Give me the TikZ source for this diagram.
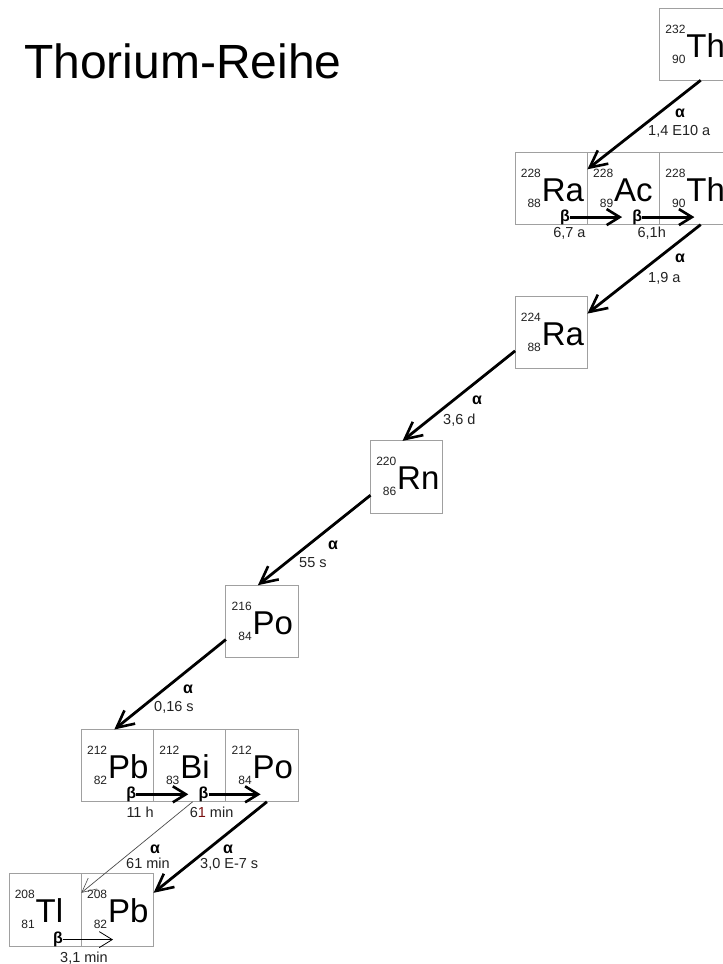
\documentclass[tikz,border=0pt]{standalone}
\usepackage{fontspec}
\setmainfont{Liberation Sans}
\usetikzlibrary{calc,arrows.meta}
\definecolor{boxgray}{HTML}{A0A0A0}
\definecolor{labgray}{HTML}{222222}
\definecolor{darkred}{HTML}{7A1010}
\tikzset{
  nbox/.style={draw=boxgray, line width=0.9pt, minimum width=72.3pt, minimum height=72.3pt, inner sep=0pt, outer sep=0pt},
  massno/.style={inner sep=0pt, font=\fontsize{12}{12}\selectfont, text=labgray},
  symb/.style={inner sep=0pt, font=\fontsize{33}{33}\selectfont},
  greek/.style={inner sep=0pt, font=\fontsize{16}{16}\selectfont\bfseries},
  halflife/.style={inner sep=0pt, font=\fontsize{14.5}{14.5}\selectfont, text=labgray, anchor=base west},
  alphaarrow/.style={line width=2.8pt, -{Straight Barb[length=17pt,width=17pt,line width=2.6pt]}},
  betaarrow/.style={line width=2.8pt, -{Straight Barb[length=13pt,width=16pt,line width=2.6pt]}},
  thinarrow/.style={line width=0.7pt, draw=black!70, -{Straight Barb[length=14pt,width=14pt,line width=0.6pt]}},
  thinbeta/.style={line width=0.9pt, -{Straight Barb[length=13pt,width=16pt,line width=0.8pt]}},
}
\newcommand{\nucbox}[6]{%
  \node[nbox, anchor=north west] (#1) at (#2,#3) {};
  \node[massno, anchor=base east] (#1-a) at ($(#1.north west)+(26,25)$) {#4};
  \node[massno, anchor=base east] (#1-z) at ($(#1.north west)+(26,55)$) {#5};
  \node[symb, anchor=base west] (#1-s) at ($(#1.north west)+(26.5,49)$) {#6};
}
\begin{document}
\begin{tikzpicture}[x=1pt,y=-1pt]
\clip (0,0) rectangle (723,964);
\fill[white] (0,0) rectangle (723,964);
% title
\node[inner sep=0pt, anchor=base west, font=\fontsize{48}{48}\selectfont] (title) at (24,78) {Thorium-Reihe};
% nuclide boxes
\nucbox{th232}{659.7}{8}{232}{90}{Th}
\nucbox{ra228}{515.1}{152.3}{228}{88}{Ra}
\nucbox{ac228}{587.4}{152.3}{228}{89}{Ac}
\nucbox{th228}{659.7}{152.3}{228}{90}{Th}
\nucbox{ra224}{515.1}{296.6}{224}{88}{Ra}
\nucbox{rn220}{370.5}{440.9}{220}{86}{Rn}
\nucbox{po216}{225.9}{585.2}{216}{84}{Po}
\nucbox{pb212}{81.3}{729.5}{212}{82}{Pb}
\nucbox{bi212}{153.6}{729.5}{212}{83}{Bi}
\nucbox{po212}{225.9}{729.5}{212}{84}{Po}
\nucbox{tl208}{9}{873.8}{208}{81}{Tl}
\nucbox{pb208}{81.3}{873.8}{208}{82}{Pb}
% alpha decays
\draw[alphaarrow] ($(th232.south west)+(41,0)$) -- ($(ra228.north east)+(0,17)$);
\draw[alphaarrow] ($(th228.south west)+(41,0)$) -- ($(ra224.north east)+(0,17)$);
\draw[alphaarrow] ($(ra224.south west)+(0,-18)$) -- ($(rn220.north west)+(32,0)$);
\draw[alphaarrow] ($(rn220.south west)+(0,-18)$) -- ($(po216.north west)+(32,0)$);
\draw[alphaarrow] ($(po216.south west)+(0,-18)$) -- ($(pb212.north west)+(33,0)$);
\draw[alphaarrow] ($(po212.south west)+(41,0)$) -- ($(pb208.north east)+(0,19)$);
\draw[thinarrow] ($(bi212.south west)+(39,0)$) -- ($(tl208.north east)+(0,19)$);
% alpha labels
\node[greek, anchor=base] (a1) at (680,117) {α};
\node[halflife] (t1) at (648,135.5) {1,4 E10 a};
\node[greek, anchor=base] (a2) at (680,262) {α};
\node[halflife] (t2) at (648,282.5) {1,9 a};
\node[greek, anchor=base] (a3) at (477,404) {α};
\node[halflife] (t3) at (443,424.5) {3,6 d};
\node[greek, anchor=base] (a4) at (333,549) {α};
\node[halflife] (t4) at (299,567.5) {55 s};
\node[greek, anchor=base] (a5) at (188,693) {α};
\node[halflife] (t5) at (154,711.5) {0,16 s};
\node[greek, anchor=base] (a6) at (228,853) {α};
\node[halflife] (t6) at (200,868.5) {3,0 E-7 s};
\node[greek, anchor=base] (a7) at (155,853) {α};
\node[halflife] (t7) at (126,868.5) {61 min};
% beta decays
\coordinate (b1s) at ($(ra228.south west)+(55,-7.5)$);
\coordinate (b1e) at ($(ra228.south west)+(107,-7.5)$);
\node[greek, anchor=east] (b1) at (b1s) {β};
\draw[betaarrow] (b1s) -- (b1e);
\node[halflife] (bt1) at ($(ra228.south west)+(38,12.5)$) {6,7 a};
\coordinate (b2s) at ($(ac228.south west)+(55,-7.5)$);
\coordinate (b2e) at ($(ac228.south west)+(107,-7.5)$);
\node[greek, anchor=east] (b2) at (b2s) {β};
\draw[betaarrow] (b2s) -- (b2e);
\node[halflife] (bt2) at ($(ac228.south west)+(50,12.5)$) {6,1h};
\coordinate (b3s) at ($(pb212.south west)+(55,-7.5)$);
\coordinate (b3e) at ($(pb212.south west)+(107,-7.5)$);
\node[greek, anchor=east] (b3) at (b3s) {β};
\draw[betaarrow] (b3s) -- (b3e);
\node[halflife] (bt3) at ($(pb212.south west)+(45,15.5)$) {11 h};
\coordinate (b4s) at ($(bi212.south west)+(55,-7.5)$);
\coordinate (b4e) at ($(bi212.south west)+(107,-7.5)$);
\node[greek, anchor=east] (b4) at (b4s) {β};
\draw[betaarrow] (b4s) -- (b4e);
\node[halflife] (bt4) at ($(bi212.south west)+(36,15.5)$) {6{\color{darkred}1} min};
\coordinate (b5s) at ($(tl208.south west)+(54,-6.5)$);
\coordinate (b5e) at ($(tl208.south west)+(104,-6.5)$);
\node[greek, anchor=east] (b5) at (b5s) {β};
\draw[thinbeta] (b5s) -- (b5e);
\node[halflife] (bt5) at ($(tl208.south west)+(51,16)$) {3,1 min};
\end{tikzpicture}
\end{document}
